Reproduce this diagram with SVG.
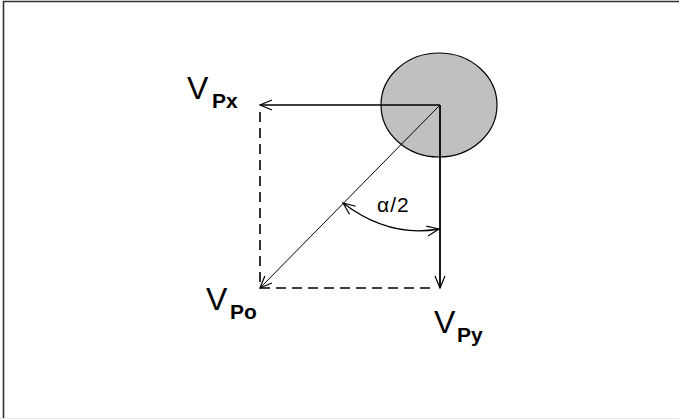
<svg xmlns="http://www.w3.org/2000/svg" width="679" height="419" viewBox="0 0 679 419">
<defs>
<style>
.v{font-family:"Liberation Sans",Arial,sans-serif;font-size:32px;fill:#000}
.s{font-family:"Liberation Sans",Arial,sans-serif;font-size:21px;font-weight:bold;fill:#000}
.a{font-family:"Liberation Sans",Arial,sans-serif;font-size:21px;letter-spacing:1px;fill:#000}
.ln{stroke:#000;fill:none}
.dash{stroke:#000;stroke-width:1.6;stroke-dasharray:10 6;fill:none}
</style>
<marker id="arr" viewBox="0 0 14 12" refX="13" refY="6" markerWidth="14" markerHeight="12" markerUnits="userSpaceOnUse" orient="auto-start-reverse">
<path d="M1,1 L13,6 L1,11" fill="none" stroke="#000" stroke-width="1.2"/>
</marker>
</defs>
<rect width="679" height="419" fill="#fff"/>
<path d="M3.5,419 V1.5 H679" fill="none" stroke="#333" stroke-width="1.6"/>
<line x1="0" y1="418.5" x2="679" y2="418.5" stroke="#e6e6e6" stroke-width="1"/>
<g id="body">
<ellipse cx="439" cy="105" rx="58" ry="52" fill="#c0c0c0" stroke="#000" stroke-width="1.2"/>
</g>
<g id="connectors">
<line class="dash" x1="260" y1="112" x2="260" y2="288"/>
<line class="dash" x1="260" y1="288" x2="436" y2="288"/>
<line class="ln" stroke-width="1.6" x1="440" y1="105" x2="260" y2="105" marker-end="url(#arr)"/>
<line class="ln" stroke-width="1.8" x1="440" y1="105" x2="440" y2="288" marker-end="url(#arr)"/>
<line class="ln" stroke-width="1" x1="440" y1="105" x2="260" y2="288" marker-end="url(#arr)"/>
<path class="ln" stroke-width="1.3" d="M343,203 Q389,238 439,229" marker-start="url(#arr)" marker-end="url(#arr)"/>
</g>
<g id="label-vpx"><text class="v" x="187" y="99">V</text><text class="s" x="212" y="108">Px</text></g>
<g id="label-vpo"><text class="v" x="206" y="310">V</text><text class="s" x="230" y="319">Po</text></g>
<g id="label-vpy"><text class="v" x="434" y="333">V</text><text class="s" x="457" y="342">Py</text></g>
<g id="label-alpha"><text class="a" x="377" y="212">α/2</text></g>
</svg>
